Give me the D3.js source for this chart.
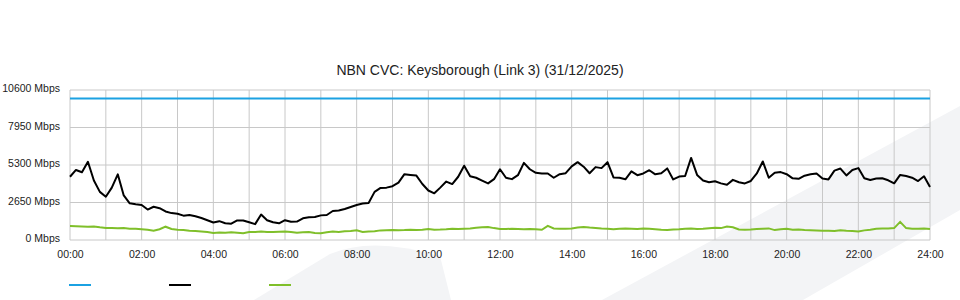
<!DOCTYPE html>
<html>
<head>
  <meta charset="utf-8"/>
  <title>NBN CVC</title>
  <style type="text/css">
    body {
      padding:0;
      margin:0;
      background-color:white;
      font-family: "Liberation Sans", Arial, sans-serif;
    }
    svg { display:block; }
  </style>
  <script src="https://cdn.jsdelivr.net/npm/d3@7/dist/d3.min.js" charset="utf-8"></script>
</head>
<body>
<script type="text/javascript">

  var w = 960, h = 300;

  // DATA (Mbps, one sample every 10 minutes from 00:00 to 24:00)
  var stepMinutes = 10;
  var capacity = [10000, 10000];
  var traffic = [
    4470, 4950, 4790, 5530, 4200, 3400, 3060, 3700, 4640, 3150, 2590, 2520, 2470,
    2150, 2350, 2250, 2020, 1900, 1850, 1720, 1770, 1680, 1550, 1400, 1240,
    1330, 1180, 1150, 1380, 1380, 1250, 1120, 1800, 1400, 1250, 1180, 1400,
    1290, 1300, 1530, 1600, 1620, 1740, 1767, 2050, 2080, 2190, 2330, 2470,
    2580, 2620, 3400, 3680, 3700, 3800, 4050, 4650, 4600, 4550, 3960, 3500,
    3300, 3700, 4130, 3950, 4470, 5250, 4500, 4400, 4200, 4000, 4300, 5000,
    4400, 4300, 4580, 5450, 5000, 4750, 4700, 4700, 4400, 4650, 4720, 5200,
    5500, 5180, 4720, 5150, 5080, 5500, 4420, 4400, 4290, 4850, 4580, 4700,
    4930, 4640, 4710, 5060, 4280, 4480, 4520, 5800, 4600, 4200, 4080, 4150,
    4000, 3900, 4250, 4080, 4000, 4170, 4700, 5550, 4400, 4750, 4800, 4650,
    4360, 4320, 4544, 4640, 4700, 4340, 4280, 4900, 5050, 4560, 4950, 5080,
    4360, 4240, 4340, 4360, 4220, 4006, 4600, 4520, 4400, 4169, 4500, 3750
  ];
  var upstream = [
    990, 980, 960, 940, 960, 900, 850, 840, 830, 840, 800, 790, 760,
    720, 650, 760, 940, 780, 720, 700, 660, 640, 600, 560, 500,
    530, 520, 550, 520, 480, 560, 560, 600, 570, 560, 580, 600,
    570, 520, 540, 560, 500, 470, 540, 600, 560, 620, 640, 680,
    560, 600, 620, 680, 690, 700, 690, 700, 720, 700, 720, 780,
    730, 740, 760, 800, 770, 800, 820, 860, 900, 920, 840, 780,
    770, 800, 780, 760, 770, 760, 720, 1000, 820, 800, 790, 820,
    880, 920, 880, 850, 820, 800, 760, 800, 820, 800, 770, 820,
    800, 760, 720, 700, 740, 760, 800, 810, 780, 790, 830, 860,
    840, 960, 900, 740, 720, 740, 780, 800, 820, 700, 760, 800,
    720, 740, 700, 690, 680, 660, 650, 640, 680, 650, 640, 600,
    680, 720, 790, 820, 820, 840, 1280, 840, 800, 800, 820, 780
  ];
  var yTicks = [0, 2650, 5300, 7950, 10600];
  var xLabelHours = [0, 2, 4, 6, 8, 10, 12, 14, 16, 18, 20, 22, 24];
  var title = "NBN CVC: Keysborough (Link 3) (31/12/2025)";

  // COLORS
  var blueColor = "#1ba1e2",
      blackColor = "#000000",
      greenColor = "#7fbf2a",
      gridColor = "#c8c8c8",
      watermark = "#f3f4f6",
      textColor = "#222222";

  var svg = d3.select("body").append("svg")
                             .attr("width", w)
                             .attr("height", h);

  // faint background shapes
  var bg = svg.append("g").attr("id", "bg-group");
  bg.append("path")
    .attr("d", "M602,300 L960,106 L960,210 L803,300 Z")
    .style("fill", watermark);
  bg.append("path")
    .attr("d", "M254,300 L330,254 Q372,236 440,256 L451,300 Z")
    .style("fill", watermark);

  var x = d3.scaleLinear().domain([0, 24 * 60]).range([70, 930]);
  var y = d3.scaleLinear().domain([0, 10600]).range([240, 90]);

  // grid
  var grid = svg.append("g").attr("id", "grid-group");
  grid.selectAll("line.vgrid")
      .data(d3.range(0, 25))
      .enter().append("line")
      .attr("class", "vgrid")
      .attr("x1", function(d) { return x(d * 60); })
      .attr("x2", function(d) { return x(d * 60); })
      .attr("y1", y(10600))
      .attr("y2", y(0))
      .style("stroke", gridColor)
      .style("stroke-width", 1);

  grid.selectAll("line.hgrid")
      .data(yTicks)
      .enter().append("line")
      .attr("class", "hgrid")
      .attr("x1", x(0))
      .attr("x2", x(24 * 60))
      .attr("y1", function(d) { return y(d); })
      .attr("y2", function(d) { return y(d); })
      .style("stroke", gridColor)
      .style("stroke-width", 1);

  // axes labels
  var yAxis = d3.axisLeft(y).tickValues(yTicks).tickSize(0).tickPadding(10)
                .tickFormat(function(d) { return d + " Mbps"; });
  svg.append("g")
     .attr("transform", "translate(" + x(0) + ",-1.5)")
     .call(yAxis)
     .call(function(g) { g.select(".domain").remove(); })
     .selectAll("text")
     .style("font-family", "\"Liberation Sans\", Arial, sans-serif")
     .style("font-size", "10.5px")
     .style("fill", textColor);

  var xAxis = d3.axisBottom(x).tickValues(xLabelHours.map(function(d) { return d * 60; }))
                .tickSize(0).tickPadding(11)
                .tickFormat(function(d) { return d3.format("02d")(d / 60) + ":00"; });
  svg.append("g")
     .attr("transform", "translate(0," + y(0) + ")")
     .call(xAxis)
     .call(function(g) { g.select(".domain").remove(); })
     .selectAll("text")
     .style("font-family", "\"Liberation Sans\", Arial, sans-serif")
     .style("font-size", "10.5px")
     .style("fill", textColor);

  // series
  var line = d3.line()
               .x(function(d, i) { return x(i * stepMinutes); })
               .y(function(d) { return y(d); });

  svg.append("path")
     .datum(capacity)
     .attr("d", d3.line().x(function(d, i) { return x(i * 24 * 60); }).y(function(d) { return y(d); }))
     .style("fill", "none")
     .style("stroke", blueColor)
     .style("stroke-width", 2);

  svg.append("path")
     .datum(upstream)
     .attr("d", line)
     .style("fill", "none")
     .style("stroke", greenColor)
     .style("stroke-width", 2);

  svg.append("path")
     .datum(traffic)
     .attr("d", line)
     .style("fill", "none")
     .style("stroke", blackColor)
     .style("stroke-width", 2)
     .style("stroke-linejoin", "round");

  // title
  svg.append("text")
     .attr("x", w / 2)
     .attr("y", 75)
     .attr("text-anchor", "middle")
     .style("font-size", "14px")
     .style("fill", textColor)
     .text(title);

  // legend swatches
  var legendColors = [blueColor, blackColor, greenColor];
  svg.selectAll("line.legend")
     .data(legendColors)
     .enter().append("line")
     .attr("class", "legend")
     .attr("x1", function(d, i) { return 69 + i * 100; })
     .attr("x2", function(d, i) { return 91 + i * 100; })
     .attr("y1", 285)
     .attr("y2", 285)
     .style("stroke", function(d) { return d; })
     .style("stroke-width", 2);

</script>
</body>
</html>
